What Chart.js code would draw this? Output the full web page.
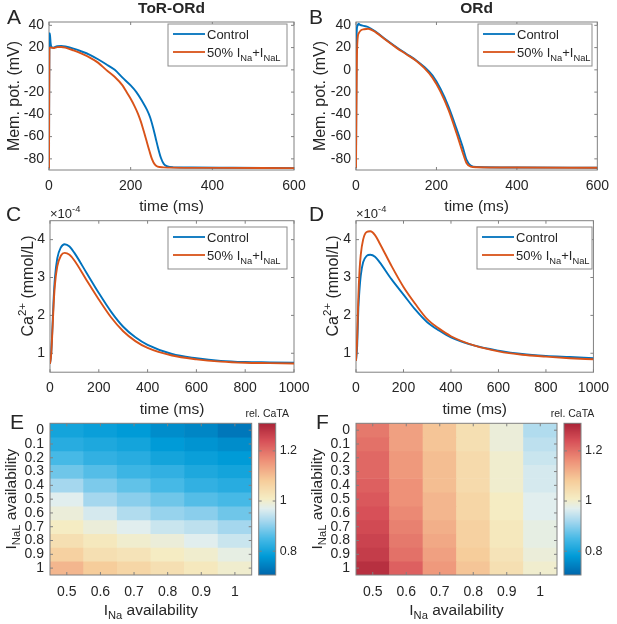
<!DOCTYPE html>
<html>
<head>
<meta charset="utf-8">
<script src="https://cdn.jsdelivr.net/npm/chart.js@4.4.0/dist/chart.umd.min.js"></script>
<style>
  html, body { margin: 0; padding: 0; background: #fff; }
  #wrap { position: relative; width: 617px; height: 624px; }
  #wrap canvas { position: absolute; left: 0; top: 0; }
</style>
</head>
<body>
<div id="wrap">
  <canvas id="cA" width="617" height="624"></canvas>
  <canvas id="cB" width="617" height="624"></canvas>
  <canvas id="cC" width="617" height="624"></canvas>
  <canvas id="cD" width="617" height="624"></canvas>
  <canvas id="cE" width="617" height="624"></canvas>
  <canvas id="cF" width="617" height="624"></canvas>
</div>
<script>
// ---------- data ----------
// A: ToR-ORd action potential (mV)
const apTorCtrlT = [0, 1, 2, 4, 6, 10, 20, 30, 40, 60, 80, 100, 120, 140, 161, 180, 200, 214, 228, 240, 248, 255, 261, 267, 274, 281, 290, 305, 350, 450, 600];
const apTorCtrlV = [-88.5, 28, 33, 24, 20.5, 20, 21.3, 21.5, 21, 19, 16.5, 13.5, 9.5, 5, 0, -7, -14, -20, -28, -36, -43, -52, -61, -70, -79, -84.5, -86.8, -87.6, -87.8, -88, -88.3];
const apTorNaT = [0, 1, 3, 10, 20, 30, 40, 60, 80, 100, 120, 140, 160, 180, 190, 200, 210, 218, 225, 232, 239, 246, 252, 259, 266, 280, 300, 400, 600];
const apTorNaV = [-88.5, 19, 20.2, 19.6, 20.4, 20.6, 20, 17.5, 14.5, 11, 6.5, 0, -6, -14, -20, -26, -33, -39.5, -46.5, -55, -64, -73, -80, -85, -87, -87.6, -87.9, -88.1, -88.3];

// B: ORd action potential (mV)
const apOrdCtrlT = [0, 1.5, 3, 6, 10, 20, 30, 50, 75, 100, 125, 150, 170, 190, 210, 230, 250, 265, 275, 285, 300, 400, 600];
const apOrdCtrlV = [-88, 30, 39, 41.5, 40.5, 39.5, 38.5, 34, 27, 20.5, 14.5, 8.5, 2.5, -5, -17, -33, -53, -69, -81, -86, -87.3, -87.7, -88];
const apOrdNaT = [0, 2, 4, 7, 12, 20, 30, 50, 75, 100, 125, 150, 170, 190, 210, 230, 250, 265, 275, 285, 300, 400, 600];
const apOrdNaV = [-88, 5, 28, 33, 35.5, 36.5, 37, 33.5, 26.5, 20, 14, 8, 1.5, -7, -19.5, -36, -57, -74, -84, -87, -87.5, -87.8, -88];

// C, D: Ca2+ transients, in units of 1e-4 mmol/L
const caT = [0, 5, 10, 15, 20, 30, 45, 60, 80, 100, 150, 200, 250, 300, 350, 400, 500, 600, 700, 800, 900, 1000];
const caTorCtrl = [0.72, 1.0, 1.7, 2.45, 2.98, 3.51, 3.8, 3.88, 3.82, 3.65, 3.12, 2.59, 2.1, 1.7, 1.42, 1.22, 0.98, 0.87, 0.8, 0.77, 0.76, 0.75];
const caTorNa = [0.72, 0.98, 1.6, 2.3, 2.8, 3.3, 3.58, 3.65, 3.6, 3.45, 2.93, 2.42, 1.95, 1.58, 1.32, 1.14, 0.94, 0.84, 0.78, 0.75, 0.74, 0.73];
const caOrdCtrl = [0.8, 1.2, 2.2, 2.7, 3.05, 3.4, 3.57, 3.6, 3.55, 3.4, 2.95, 2.55, 2.15, 1.82, 1.6, 1.42, 1.2, 1.07, 0.98, 0.93, 0.9, 0.87];
const caOrdNa = [0.8, 1.4, 2.5, 3.2, 3.6, 4.0, 4.2, 4.22, 4.12, 3.9, 3.3, 2.75, 2.3, 1.9, 1.65, 1.45, 1.2, 1.05, 0.96, 0.91, 0.87, 0.84];

// tick values
const apXTicks = [0, 200, 400, 600];
const apYTicks = [-80, -60, -40, -20, 0, 20, 40];
const caXTicks = [0, 200, 400, 600, 800, 1000];
const caYTicks = [1, 2, 3, 4];

// E, F: relative CaT amplitude; rows = INaL availability, columns = INa availability
const iNaAvail = ['0.5', '0.6', '0.7', '0.8', '0.9', '1'];
const iNaLAvail = [0, 0.1, 0.2, 0.3, 0.4, 0.5, 0.6, 0.7, 0.8, 0.9, 1];
const cataTor = [
  [0.80, 0.79, 0.78, 0.76, 0.75, 0.73],
  [0.82, 0.81, 0.80, 0.78, 0.77, 0.76],
  [0.85, 0.83, 0.82, 0.80, 0.79, 0.78],
  [0.88, 0.86, 0.84, 0.83, 0.81, 0.80],
  [0.92, 0.89, 0.87, 0.85, 0.83, 0.82],
  [0.97, 0.92, 0.90, 0.88, 0.86, 0.85],
  [0.99, 0.96, 0.93, 0.91, 0.90, 0.88],
  [1.01, 0.99, 0.97, 0.95, 0.94, 0.92],
  [1.04, 1.02, 1.00, 0.99, 0.97, 0.95],
  [1.07, 1.04, 1.03, 1.01, 1.00, 0.98],
  [1.11, 1.08, 1.06, 1.04, 1.02, 1.00]
];
const cataOrd = [
  [1.19, 1.14, 1.09, 1.04, 0.99, 0.93],
  [1.20, 1.14, 1.09, 1.04, 0.99, 0.94],
  [1.21, 1.15, 1.10, 1.05, 1.00, 0.95],
  [1.21, 1.15, 1.10, 1.05, 1.00, 0.96],
  [1.22, 1.16, 1.10, 1.05, 1.00, 0.96],
  [1.23, 1.16, 1.11, 1.06, 1.01, 0.97],
  [1.24, 1.17, 1.11, 1.06, 1.01, 0.97],
  [1.25, 1.18, 1.12, 1.07, 1.02, 0.98],
  [1.26, 1.19, 1.13, 1.07, 1.02, 0.98],
  [1.27, 1.20, 1.14, 1.08, 1.03, 0.99],
  [1.29, 1.22, 1.15, 1.09, 1.04, 1.00]
];
const cbTicks = [0.8, 1, 1.2];
const cbRange = [0.705, 1.31];

// ---------- styling ----------
const W = 617, H = 624;
const FONT = "'Liberation Sans', Arial, Helvetica, sans-serif";
const TXT = '#262626';
const AXC = '#808080';
const seriesColors = ['#0072BD', '#D95319'];
Chart.defaults.font.family = FONT;
Chart.defaults.color = TXT;

// blue - white - yellow - red colormap
const cmapStops = [
  [0.70, [0, 98, 168]],
  [0.78, [0, 155, 215]],
  [0.85, [70, 185, 230]],
  [0.92, [165, 215, 238]],
  [0.97, [225, 238, 238]],
  [1.01, [245, 236, 195]],
  [1.08, [246, 205, 155]],
  [1.16, [238, 145, 120]],
  [1.24, [215, 80, 88]],
  [1.31, [170, 35, 55]]
];
function cmap(v) {
  if (v <= cmapStops[0][0]) return 'rgb(' + cmapStops[0][1].join(',') + ')';
  for (let i = 1; i < cmapStops.length; i++) {
    const [v1, c1] = cmapStops[i];
    if (v <= v1) {
      const [v0, c0] = cmapStops[i - 1];
      const f = (v - v0) / (v1 - v0);
      return 'rgb(' + c0.map((c, k) => Math.round(c + (c1[k] - c) * f)).join(',') + ')';
    }
  }
  return 'rgb(' + cmapStops[cmapStops.length - 1][1].join(',') + ')';
}

// text with sub/superscripts; (x,y) = middle of the main text line
function rich(ctx, parts, x, y, size, o) {
  o = o || {};
  const small = size * 0.72;
  const fnt = s => (o.bold ? 'bold ' : '') + s + 'px ' + FONT;
  ctx.save();
  ctx.translate(x, y);
  if (o.rot) ctx.rotate(o.rot);
  let w = 0;
  parts.forEach(([t, m]) => { ctx.font = fnt(m ? small : size); w += ctx.measureText(t).width; });
  let cx = o.align === 'center' ? -w / 2 : 0;
  ctx.textAlign = 'left';
  ctx.textBaseline = 'alphabetic';
  ctx.fillStyle = TXT;
  parts.forEach(([t, m]) => {
    ctx.font = fnt(m ? small : size);
    let dy = size * 0.36;
    if (m === 'sub') dy += size * 0.3;
    if (m === 'sup') dy -= size * 0.45;
    ctx.fillText(t, cx, dy);
    cx += ctx.measureText(t).width;
  });
  ctx.restore();
}

function frameAndTicks(chart, xs, ys, len) {
  const { ctx, chartArea: a } = chart;
  ctx.save();
  ctx.strokeStyle = AXC;
  ctx.lineWidth = 1;
  ctx.strokeRect(a.left, a.top, a.right - a.left, a.bottom - a.top);
  ctx.beginPath();
  xs.ticks.forEach((t, i) => {
    const p = xs.getPixelForTick(i);
    ctx.moveTo(p, a.bottom); ctx.lineTo(p, a.bottom - len);
    ctx.moveTo(p, a.top); ctx.lineTo(p, a.top + len);
  });
  ys.ticks.forEach((t, i) => {
    const p = ys.getPixelForTick(i);
    ctx.moveTo(a.left, p); ctx.lineTo(a.left + len, p);
    ctx.moveTo(a.right, p); ctx.lineTo(a.right - len, p);
  });
  ctx.stroke();
  ctx.restore();
}

const legendEntries = [
  [['Control', '']],
  [['50% I', ''], ['Na', 'sub'], ['+I', ''], ['NaL', 'sub']]
];
function drawLegend(ctx, b) {
  ctx.save();
  ctx.fillStyle = '#fff';
  ctx.fillRect(b.x, b.y, b.w, b.h);
  ctx.strokeStyle = '#8c8c8c';
  ctx.lineWidth = 1;
  ctx.strokeRect(b.x, b.y, b.w, b.h);
  legendEntries.forEach((parts, i) => {
    const cy = b.y + 10 + i * 18;
    ctx.strokeStyle = seriesColors[i];
    ctx.lineWidth = 1.8;
    ctx.beginPath(); ctx.moveTo(b.x + 5, cy); ctx.lineTo(b.x + 37, cy); ctx.stroke();
    rich(ctx, parts, b.x + 39, cy, 13);
  });
  ctx.restore();
}

const AXW = 45, AXH = 40, CBW = 60;
const tickFont = { size: 14 };

function lineChart(id, p) {
  return new Chart(document.getElementById(id), {
    type: 'line',
    data: {
      datasets: p.series.map((s, i) => ({
        data: s.t.map((t, k) => ({ x: t, y: s.v[k] })),
        borderColor: seriesColors[i],
        borderWidth: 1.9,
        pointRadius: 0,
        fill: false,
        cubicInterpolationMode: 'monotone',
        order: 1 - i
      }))
    },
    options: {
      responsive: false, animation: false, events: [],
      layout: { padding: { left: p.box.l - AXW, top: p.box.t, right: W - p.box.r, bottom: H - p.box.b - AXH } },
      plugins: { legend: { display: false }, tooltip: { enabled: false } },
      scales: {
        x: {
          type: 'linear', min: p.xMin, max: p.xMax,
          grid: { display: false, drawTicks: false }, border: { display: false },
          afterBuildTicks: s => { s.ticks = p.xTicks.map(v => ({ value: v })); },
          afterFit: s => { s.height = AXH; },
          ticks: { font: tickFont, color: TXT, padding: 8, maxRotation: 0, autoSkip: false, callback: v => String(v) }
        },
        y: {
          type: 'linear', min: p.yMin, max: p.yMax,
          grid: { display: false, drawTicks: false }, border: { display: false },
          afterBuildTicks: s => { s.ticks = p.yTicks.map(v => ({ value: v })); },
          afterFit: s => { s.width = AXW; },
          ticks: { font: tickFont, color: TXT, padding: 5, autoSkip: false, callback: v => String(v) }
        }
      }
    },
    plugins: [{
      id: 'deco',
      beforeDatasetsDraw: c => frameAndTicks(c, c.scales.x, c.scales.y, 3),
      afterDraw: c => {
        const ctx = c.ctx, a = c.chartArea, mid = (a.left + a.right) / 2;
        rich(ctx, [[p.letter, '']], p.letterPos[0], p.letterPos[1], 21);
        if (p.title) rich(ctx, [[p.title, '']], mid, 7, 15.5, { align: 'center', bold: true });
        if (p.expo) rich(ctx, [['\u00d710', ''], ['-4', 'sup']], a.left, p.expo, 13);
        rich(ctx, [['time (ms)', '']], mid, p.xLabelY, 15.5, { align: 'center' });
        rich(ctx, p.yLabel, p.yLabelPos[0], p.yLabelPos[1], 16, { align: 'center', rot: -Math.PI / 2 });
        drawLegend(ctx, p.legend);
      }
    }]
  });
}

function heatChart(id, p) {
  const rowHalf = (iNaLAvail[1] - iNaLAvail[0]) / 2;
  return new Chart(document.getElementById(id), {
    type: 'bar',
    data: {
      labels: iNaAvail,
      datasets: iNaLAvail.map((r, i) => ({
        data: iNaAvail.map(() => [r - rowHalf, r + rowHalf]),
        backgroundColor: p.values[i].map(cmap),
        borderWidth: 0,
        grouped: false,
        barPercentage: 1,
        categoryPercentage: 1
      }))
    },
    options: {
      responsive: false, animation: false, events: [],
      layout: { padding: { left: p.box.l - AXW, top: p.box.t, right: W - p.box.r - CBW, bottom: H - p.box.b - AXH } },
      plugins: { legend: { display: false }, tooltip: { enabled: false } },
      scales: {
        x: {
          type: 'category', offset: true,
          grid: { display: false, drawTicks: false }, border: { display: false },
          afterFit: s => { s.height = AXH; },
          ticks: { font: tickFont, color: TXT, padding: 9, maxRotation: 0, autoSkip: false }
        },
        y: {
          type: 'linear', reverse: true,
          min: iNaLAvail[0] - rowHalf, max: iNaLAvail[iNaLAvail.length - 1] + rowHalf,
          grid: { display: false, drawTicks: false }, border: { display: false },
          afterBuildTicks: s => { s.ticks = iNaLAvail.map(v => ({ value: v })); },
          afterFit: s => { s.width = AXW; },
          ticks: { font: tickFont, color: TXT, padding: 6, autoSkip: false, callback: v => String(+v.toFixed(2)) }
        },
        cb: {
          type: 'linear', position: 'right', min: cbRange[0], max: cbRange[1],
          grid: { display: false, drawTicks: false }, border: { display: false },
          afterBuildTicks: s => { s.ticks = cbTicks.map(v => ({ value: v })); },
          afterFit: s => { s.width = CBW; },
          ticks: { font: { size: 12.5 }, color: TXT, padding: 28, autoSkip: false, callback: v => String(v) }
        }
      }
    },
    plugins: [{
      id: 'deco',
      afterDatasetsDraw: c => frameAndTicks(c, c.scales.x, c.scales.y, 3),
      afterDraw: c => {
        const ctx = c.ctx, a = c.chartArea, cb = c.scales.cb;
        const x0 = a.right + 7, cw = 17;
        // colorbar
        for (let y = Math.floor(a.top); y < Math.ceil(a.bottom); y++) {
          ctx.fillStyle = cmap(cb.getValueForPixel(y + 0.5));
          ctx.fillRect(x0, y, cw, 1);
        }
        ctx.save();
        ctx.strokeStyle = AXC; ctx.lineWidth = 1;
        ctx.strokeRect(x0, a.top, cw, a.bottom - a.top);
        ctx.beginPath();
        cb.ticks.forEach((t, i) => {
          const py = cb.getPixelForTick(i);
          ctx.moveTo(x0, py); ctx.lineTo(x0 + 3, py);
          ctx.moveTo(x0 + cw, py); ctx.lineTo(x0 + cw - 3, py);
        });
        ctx.stroke();
        ctx.restore();
        rich(ctx, [['rel. CaTA', '']], x0 + cw / 2, 413, 10.5, { align: 'center' });
        rich(ctx, [[p.letter, '']], p.letterPos[0], p.letterPos[1], 21);
        rich(ctx, [['I', ''], ['Na', 'sub'], [' availability', '']], (a.left + a.right) / 2, 609, 15.5, { align: 'center' });
        rich(ctx, [['I', ''], ['NaL', 'sub'], [' availability', '']], a.left - 40, (a.top + a.bottom) / 2, 15.5, { align: 'center', rot: -Math.PI / 2 });
      }
    }]
  });
}

const memLabel = [['Mem. pot. (mV)', '']];
const caLabel = [['Ca', ''], ['2+', 'sup'], [' (mmol/L)', '']];

lineChart('cA', {
  box: { l: 49, t: 22, r: 294, b: 170 }, xMin: 0, xMax: 600, yMin: -90, yMax: 43,
  xTicks: apXTicks, yTicks: apYTicks,
  series: [{ t: apTorCtrlT, v: apTorCtrlV }, { t: apTorNaT, v: apTorNaV }],
  letter: 'A', letterPos: [7, 16], title: 'ToR-ORd', xLabelY: 205,
  yLabel: memLabel, yLabelPos: [13.5, 96],
  legend: { x: 168, y: 24, w: 119, h: 42 }
});
lineChart('cB', {
  box: { l: 356, t: 22, r: 601, b: 170 }, xMin: 0, xMax: 600, yMin: -90, yMax: 43,
  xTicks: apXTicks, yTicks: apYTicks,
  series: [{ t: apOrdCtrlT, v: apOrdCtrlV }, { t: apOrdNaT, v: apOrdNaV }],
  letter: 'B', letterPos: [309, 16], title: 'ORd', xLabelY: 205,
  yLabel: memLabel, yLabelPos: [319, 96],
  legend: { x: 478, y: 24, w: 114, h: 42 }
});
lineChart('cC', {
  box: { l: 50, t: 220.7, r: 294, b: 372.2 }, xMin: 0, xMax: 1000, yMin: 0.5, yMax: 4.5,
  xTicks: caXTicks, yTicks: caYTicks,
  series: [{ t: caT, v: caTorCtrl }, { t: caT, v: caTorNa }],
  letter: 'C', letterPos: [6, 213.5], expo: 213, xLabelY: 408,
  yLabel: caLabel, yLabelPos: [27.5, 286],
  legend: { x: 168, y: 227, w: 119, h: 42 }
});
lineChart('cD', {
  box: { l: 356, t: 220.7, r: 601, b: 372.2 }, xMin: 0, xMax: 1000, yMin: 0.5, yMax: 4.5,
  xTicks: caXTicks, yTicks: caYTicks,
  series: [{ t: caT, v: caOrdCtrl }, { t: caT, v: caOrdNa }],
  letter: 'D', letterPos: [309, 213.5], expo: 213, xLabelY: 408,
  yLabel: caLabel, yLabelPos: [332.5, 286],
  legend: { x: 477, y: 227, w: 115, h: 42 }
});
heatChart('cE', { box: { l: 50, t: 423.3, r: 251.7, b: 575 }, values: cataTor, letter: 'E', letterPos: [10, 421] });
heatChart('cF', { box: { l: 356, t: 423.3, r: 557, b: 575 }, values: cataOrd, letter: 'F', letterPos: [316, 421] });
</script>
</body>
</html>
